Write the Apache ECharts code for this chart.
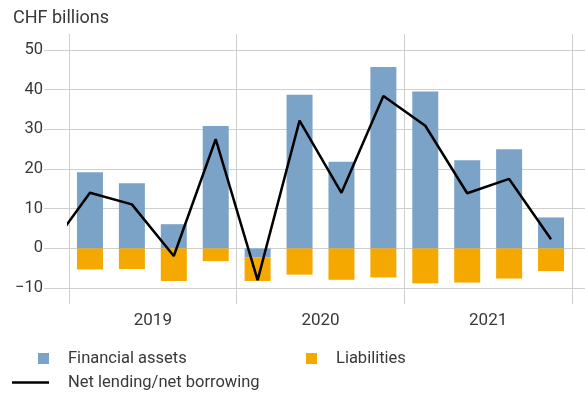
<!DOCTYPE html>
<html>
<head>
<meta charset="utf-8">
<script src="https://cdn.jsdelivr.net/npm/echarts@6/dist/echarts.min.js"></script>
<style>
  html, body { margin: 0; padding: 0; background: #fff; }
  #chart { width: 585px; height: 396px; }
</style>
</head>
<body>
<div id="chart"></div>
<script>
// Quarterly financial account flows, CHF billions
const years = ['2019', '2020', '2021'];
const quarters = ['Q1 2019', 'Q2 2019', 'Q3 2019', 'Q4 2019',
                  'Q1 2020', 'Q2 2020', 'Q3 2020', 'Q4 2020',
                  'Q1 2021', 'Q2 2021', 'Q3 2021', 'Q4 2021'];
const financialAssets = [19.2, 16.4, 6.1, 30.8, -2.3, 38.7, 21.8, 45.7, 39.5, 22.2, 25.0, 7.8];
const liabilities = [-5.3, -5.2, -8.2, -3.2, -5.9, -6.6, -7.9, -7.3, -8.8, -8.6, -7.6, -5.7];
// Net lending/net borrowing; the value for Q4 2018 leads the line in from the left edge
const netLendingPrev = -0.5;
const netLending = [14.0, 11.1, -1.9, 27.5, -8.0, 32.2, 14.0, 38.4, 30.9, 13.9, 17.5, 2.3];
const yTicks = [-10, 0, 10, 20, 30, 40, 50];

const FONT = 'Roboto, "Liberation Sans", sans-serif';
const TEXT = '#383838';
const GRID = '#cfcfcf';
const BLUE = '#7ba3c7';
const ORANGE = '#f5a800';

// line points on a continuous quarter index so the leading segment is clipped at the plot edge
const linePoints = [[-1, netLendingPrev]].concat(netLending.map((v, i) => [i, v]));

const chart = echarts.init(document.getElementById('chart'), null, { renderer: 'canvas' });
chart.setOption({
  animation: false,
  backgroundColor: '#ffffff',
  textStyle: { fontFamily: FONT, color: TEXT },
  title: {
    text: 'CHF billions',
    left: 13, top: 9, padding: 0,
    textStyle: { fontFamily: FONT, fontSize: 18, fontWeight: 'normal', color: TEXT }
  },
  grid: [
    // horizontal gridlines and value labels, spanning from the labels to the right edge
    { left: 44, right: 0, top: 50, bottom: 108, containLabel: false },
    // plot area with the bars, the line and the year dividers
    { left: 69, right: 13, top: 34, bottom: 92, containLabel: false }
  ],
  xAxis: [
    { gridIndex: 0, type: 'value', show: false, min: 0, max: 1 },
    {
      gridIndex: 1, type: 'category', data: years, boundaryGap: true,
      axisLine: { show: false }, axisTick: { show: false },
      axisLabel: { fontFamily: FONT, fontSize: 17, color: TEXT, margin: 8 },
      splitLine: { show: true, interval: 0, lineStyle: { color: GRID, width: 1 } }
    },
    { gridIndex: 1, type: 'category', data: quarters, show: false },
    { gridIndex: 1, type: 'value', show: false, min: -0.5, max: quarters.length - 0.5 }
  ],
  yAxis: [
    {
      gridIndex: 0, type: 'value', min: yTicks[0], max: yTicks[yTicks.length - 1], interval: 10,
      axisLine: { show: false }, axisTick: { show: false },
      axisLabel: {
        fontFamily: FONT, fontSize: 16.5, color: TEXT, margin: 1,
        formatter: v => (v < 0 ? '\u2212' + Math.abs(v) : String(v))
      },
      splitLine: { show: true, lineStyle: { color: GRID, width: 1 } }
    },
    { gridIndex: 1, type: 'value', min: -14, max: 54, show: false, splitLine: { show: false } }
  ],
  legend: [
    {
      data: [{ name: 'Financial assets', icon: 'rect' }],
      left: 38, top: 350, itemWidth: 11, itemHeight: 11, padding: 0,
      textStyle: { fontFamily: FONT, fontSize: 16.5, color: TEXT, padding: [0, 0, 0, 14] }
    },
    {
      data: [{ name: 'Liabilities', icon: 'rect' }],
      left: 306, top: 350, itemWidth: 11, itemHeight: 11, padding: 0,
      textStyle: { fontFamily: FONT, fontSize: 16.5, color: TEXT, padding: [0, 0, 0, 14] }
    },
    {
      data: [{ name: 'Net lending/net borrowing', icon: 'rect', itemStyle: { color: '#000' } }],
      left: 12, top: 374, itemWidth: 37, itemHeight: 2.5, padding: 0,
      textStyle: { fontFamily: FONT, fontSize: 16.5, color: TEXT, padding: [0, 0, 0, 14] }
    }
  ],
  series: [
    {
      name: 'Financial assets', type: 'bar', xAxisIndex: 2, yAxisIndex: 1,
      stack: 'flows', barWidth: 26, data: financialAssets,
      itemStyle: { color: BLUE }
    },
    {
      name: 'Liabilities', type: 'bar', xAxisIndex: 2, yAxisIndex: 1,
      stack: 'flows', barWidth: 26, data: liabilities,
      itemStyle: { color: ORANGE }
    },
    {
      name: 'Net lending/net borrowing', type: 'line', xAxisIndex: 3, yAxisIndex: 1,
      data: linePoints, clip: true, symbol: 'none', z: 5,
      lineStyle: { color: '#000000', width: 2.5 },
      itemStyle: { color: '#000000' }
    }
  ]
});
</script>
</body>
</html>
